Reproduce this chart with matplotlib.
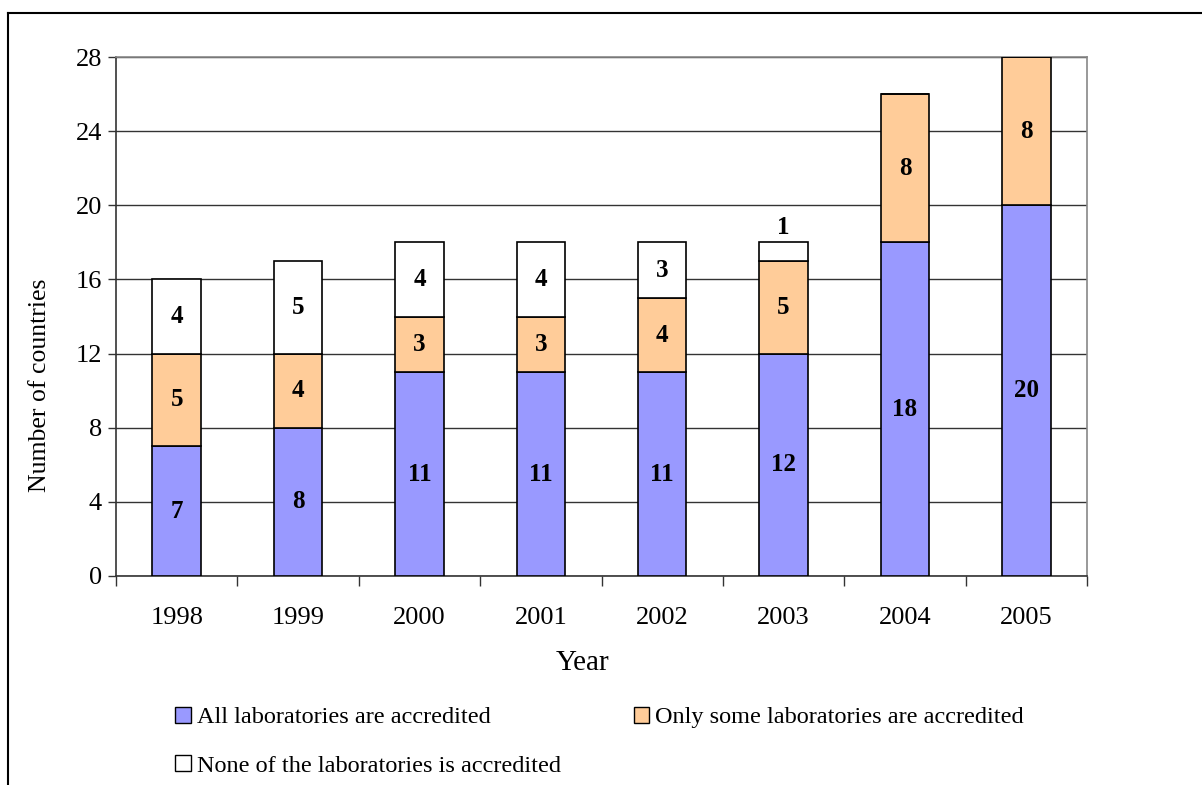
import matplotlib
matplotlib.use("Agg")
import matplotlib.pyplot as plt
from matplotlib.patches import Patch
from matplotlib.lines import Line2D
import numpy as np

years = ["1998", "1999", "2000", "2001", "2002", "2003", "2004", "2005"]
all_acc = [7, 8, 11, 11, 11, 12, 18, 20]
some_acc = [5, 4, 3, 3, 4, 5, 8, 8]
none_acc = [4, 5, 4, 4, 3, 1, 0, 0]
series_names = ["All laboratories are accredited",
                "Only some laboratories are accredited",
                "None of the laboratories is accredited"]
colors = ["#9999FF", "#FFCC99", "#FFFFFF"]
yticks = [0, 4, 8, 12, 16, 20, 24, 28]

plt.rcParams['font.family'] = ['Liberation Serif', 'DejaVu Serif']

fig = plt.figure(figsize=(12.02, 7.85), dpi=100)
ax = fig.add_axes([116/1202, 1-576/785, (1087-116)/1202, (576-57)/785])

x = np.arange(len(years))
w = 0.40
bottoms = np.zeros(len(years))
for vals, col in zip([all_acc, some_acc, none_acc], colors):
    vals = np.array(vals)
    ax.bar(x, vals, w, bottom=bottoms, color=col, edgecolor="black", linewidth=1.2, zorder=3)
    for xi, b, v in zip(x, bottoms, vals):
        if v <= 0:
            continue
        if v == 1:
            ax.text(xi, b + v + 0.2, str(v), ha="center", va="bottom",
                    fontsize=18, fontweight="bold", zorder=4)
        else:
            ax.text(xi, b + v / 2, str(v), ha="center", va="center",
                    fontsize=18, fontweight="bold", zorder=4)
    bottoms = bottoms + vals

ax.set_xlim(-0.5, len(years) - 0.5)
ax.set_ylim(0, 28)
ax.set_yticks(yticks)
ax.set_yticklabels([str(t) for t in yticks], fontsize=19)
ax.yaxis.grid(True, color="#333333", linewidth=1.0, zorder=0)
ax.set_axisbelow(True)

ax.set_xticks(x)
ax.set_xticklabels(years, fontsize=19)
ax.tick_params(axis="x", which="major", length=0, pad=22)
ax.set_xticks(np.arange(len(years) + 1) - 0.5, minor=True)
ax.tick_params(axis="x", which="minor", length=7, width=1, color="#333333")
ax.tick_params(axis="y", length=6, width=1, color="#333333", pad=4)

for s in ["top", "right"]:
    ax.spines[s].set_color("#888888")
    ax.spines[s].set_linewidth(1.2)
for s in ["left", "bottom"]:
    ax.spines[s].set_color("#333333")
    ax.spines[s].set_linewidth(1.2)

fig.text(583/1202, 1-663/785, "Year", fontsize=21, ha="center", va="center")
fig.text(40/1202, 1-385/785, "Number of countries", fontsize=18.5,
         rotation=90, ha="center", va="center")

handles = [Patch(facecolor=c, edgecolor="black", linewidth=1.0) for c in colors]
order = [0, 2, 1]
fig.legend([handles[i] for i in order], [series_names[i] for i in order],
           ncol=2, loc="upper left", bbox_to_anchor=(165/1202, 1-697/785),
           frameon=False, fontsize=17.5, handlelength=0.65, handleheight=0.65,
           handletextpad=0.25, columnspacing=3.0, labelspacing=1.1, borderaxespad=0)

# outer frame (top and left only visible)
fig.add_artist(Line2D([8/1202, 1.0], [1-13/785, 1-13/785], transform=fig.transFigure,
                      color="black", linewidth=1.5))
fig.add_artist(Line2D([8/1202, 8/1202], [1-13/785, 0], transform=fig.transFigure,
                      color="black", linewidth=1.5))

fig.savefig("out.png", dpi=100)
